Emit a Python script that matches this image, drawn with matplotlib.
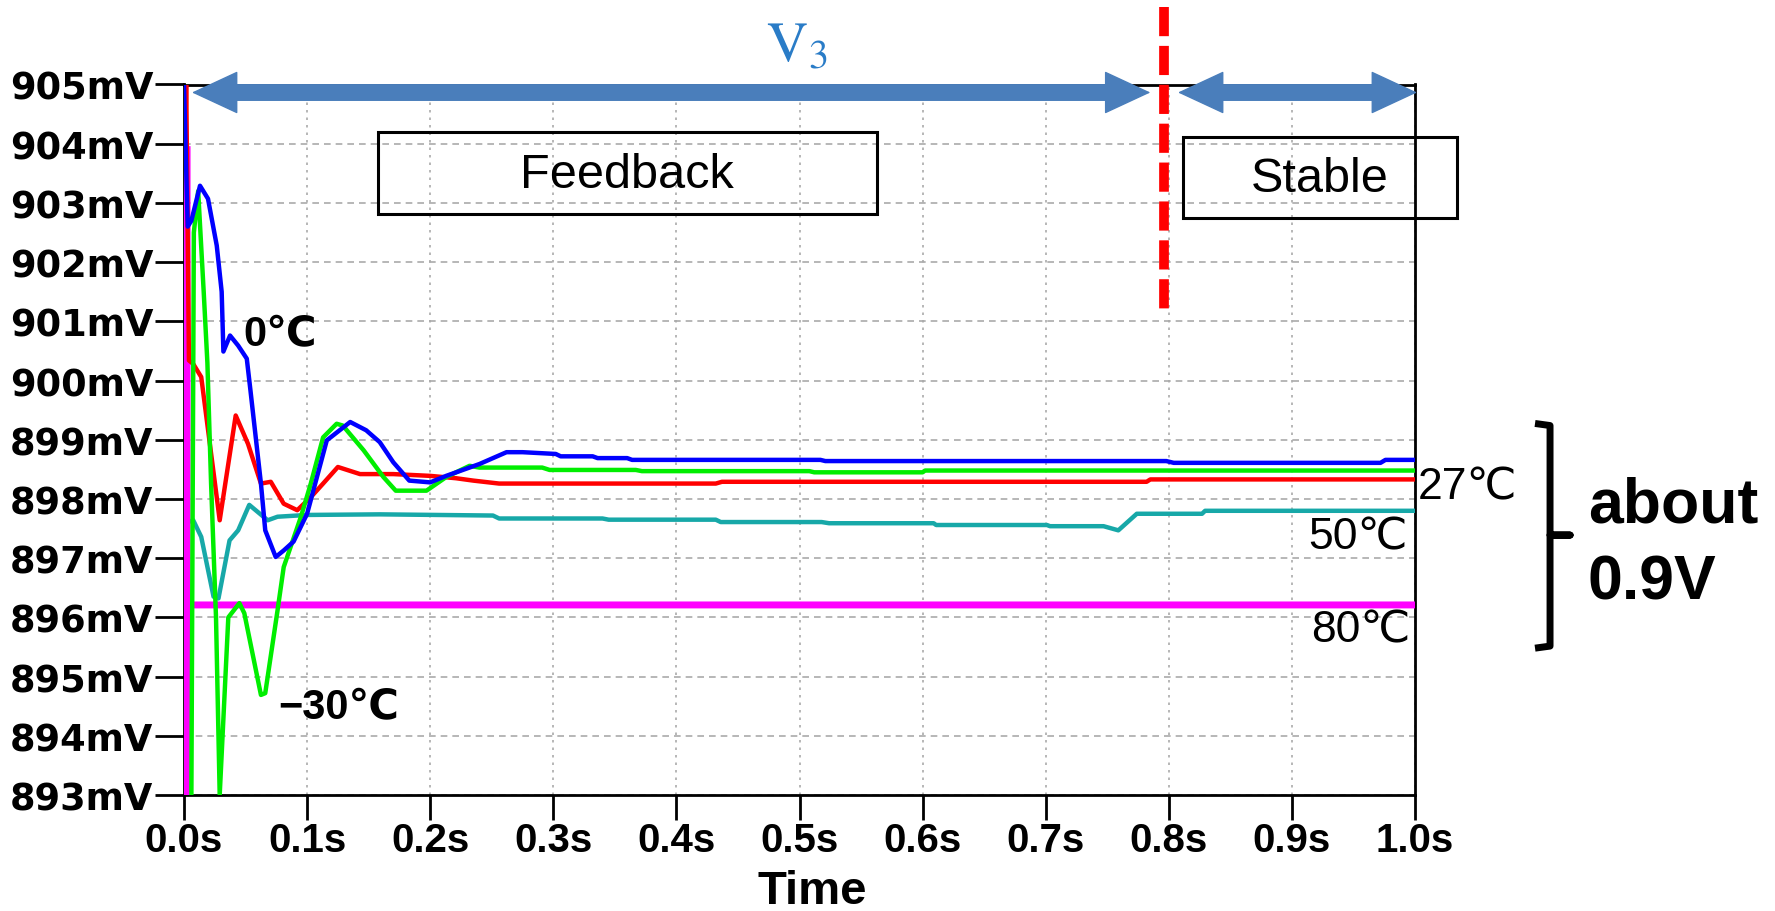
import matplotlib
matplotlib.use("Agg")
import matplotlib.pyplot as plt
from matplotlib.patches import Rectangle

# traces: time in s, voltage in mV
t_0c = [0, 0.003, 0.006, 0.013, 0.0195, 0.0266, 0.0306, 0.032, 0.0374, 0.044, 0.051,
        0.054, 0.0625, 0.066, 0.0745, 0.081, 0.089, 0.1, 0.116, 0.135, 0.148, 0.159,
        0.170, 0.183, 0.2, 0.213, 0.24, 0.262, 0.275, 0.302, 0.306, 0.332, 0.336,
        0.36, 0.364, 0.517, 0.521, 0.798, 0.804, 0.972, 0.976, 1.0]
v_0c = [905, 902.6, 902.7, 903.29, 903.07, 902.28, 901.5, 900.49, 900.76, 900.59, 900.37,
        899.83, 898.26, 897.47, 897.02, 897.13, 897.28, 897.75, 898.99, 899.3, 899.16, 898.96,
        898.62, 898.31, 898.28, 898.39, 898.59, 898.79, 898.79, 898.76, 898.72, 898.72, 898.69,
        898.69, 898.66, 898.66, 898.64, 898.64, 898.61, 898.61, 898.66, 898.66]

t_m30c = [0.006, 0.008, 0.0115, 0.016, 0.019, 0.022, 0.026, 0.029, 0.036, 0.045, 0.049,
          0.0625, 0.066, 0.076, 0.081, 0.095, 0.103, 0.113, 0.124, 0.129, 0.146, 0.162,
          0.172, 0.197, 0.213, 0.232, 0.24, 0.291, 0.297, 0.367, 0.372, 0.508, 0.512,
          0.6, 0.602, 1.0]
v_m30c = [893, 902.5, 903.2, 901.5, 900.3, 898.26, 896.0, 893.0, 896.0, 896.24, 896.07,
          894.69, 894.72, 896.12, 896.85, 897.7, 898.26, 899.04, 899.27, 899.24, 898.82, 898.37,
          898.14, 898.14, 898.37, 898.56, 898.53, 898.53, 898.49, 898.49, 898.47, 898.47, 898.45,
          898.45, 898.48, 898.48]

t_27c = [0.002, 0.002, 0.004, 0.0075, 0.014, 0.029, 0.042, 0.052, 0.0625, 0.0705, 0.081,
         0.092, 0.103, 0.113, 0.125, 0.143, 0.17, 0.2, 0.221, 0.235, 0.256, 0.432, 0.437,
         0.782, 0.785, 1.0]
v_27c = [905, 904.6, 900.34, 900.28, 900.06, 897.64, 899.41, 898.93, 898.26, 898.29, 897.92,
         897.81, 898.03, 898.26, 898.54, 898.42, 898.42, 898.39, 898.35, 898.31, 898.26, 898.26,
         898.29, 898.29, 898.33, 898.33]

t_50c = [0.001, 0.002, 0.0075, 0.014, 0.024, 0.028, 0.037, 0.044, 0.053, 0.068, 0.076, 0.1,
         0.159, 0.251, 0.256, 0.34, 0.345, 0.432, 0.436, 0.518, 0.524, 0.609, 0.611, 0.701,
         0.7035, 0.747, 0.759, 0.774, 0.827, 0.8295, 1.0]
v_50c = [905, 897.6, 897.64, 897.36, 896.35, 896.32, 897.3, 897.47, 897.9, 897.64, 897.7, 897.73,
         897.74, 897.72, 897.67, 897.67, 897.65, 897.65, 897.61, 897.61, 897.59, 897.59, 897.56,
         897.56, 897.54, 897.54, 897.47, 897.75, 897.75, 897.80, 897.80]

t_80c = [0.0025, 0.0025, 0.0045, 1.0]
v_80c = [903.9, 893, 896.21, 896.21]

x_ticks = [0, 0.1, 0.2, 0.3, 0.4, 0.5, 0.6, 0.7, 0.8, 0.9, 1.0]
x_labels = ["0.0s", "0.1s", "0.2s", "0.3s", "0.4s", "0.5s", "0.6s", "0.7s", "0.8s", "0.9s", "1.0s"]
y_ticks = list(range(893, 906))
y_labels = [f"{v}mV" for v in y_ticks]

arrow_blue = "#4a7ebb"
deg_font = ["Liberation Sans", "DejaVu Sans"]

fig = plt.figure(figsize=(17.75, 9.12), dpi=100)
ax = fig.add_axes([184 / 1775, 1 - 796 / 912, 1231 / 1775, 710.5 / 912])
ax.set_xlim(0, 1)
ax.set_ylim(893, 905)

# grid: dotted verticals, dashed horizontals
ax.xaxis.grid(True, color="#aaaaaa", linestyle=(0, (1.5, 3)), linewidth=1.2)
ax.yaxis.grid(True, color="#aaaaaa", linestyle=(0, (4, 3)), linewidth=1.2)
ax.set_axisbelow(True)

ax.plot(t_50c, v_50c, color="#17a8a8", lw=3.2, zorder=3)
ax.plot(t_80c, v_80c, color="#ff00ff", lw=5, zorder=3)
ax.plot(t_27c, v_27c, color="#ff0000", lw=3.2, zorder=3)
ax.plot(t_m30c, v_m30c, color="#00ee00", lw=3.2, zorder=3)
ax.plot(t_0c, v_0c, color="#0000ff", lw=3.2, zorder=3)

for s in ax.spines.values():
    s.set_linewidth(2)
ax.set_xticks(x_ticks)
ax.set_xticklabels(x_labels, fontfamily=["Liberation Sans Narrow", "Liberation Sans"],
                   fontweight="bold", fontsize=29)
ax.set_yticks(y_ticks)
ax.set_yticklabels(y_labels, fontfamily="DejaVu Sans", fontweight="bold", fontsize=26.5)
ax.tick_params(axis="y", direction="out", length=21, width=2, pad=1)
ax.tick_params(axis="x", direction="out", length=18, width=2, pad=1)

ax.set_xlabel("Time", fontfamily="Liberation Sans", fontweight="bold", fontsize=34, va="center")
ax.xaxis.set_label_coords(0.510, -0.135)

# title above the plot
ax.text(0.498, 905.68, r"$\mathrm{V}_3$", fontsize=41, color="#2a7cc7",
        ha="center", va="center", math_fontfamily="stix")

# double-headed arrows
for x0, x1 in [(0.0065, 0.785), (0.8075, 1.0016)]:
    ax.annotate("", xy=(x1, 904.865), xytext=(x0, 904.865),
                arrowprops=dict(arrowstyle="<|-|>,head_length=31,head_width=14.4",
                                mutation_scale=1, shrinkA=0, shrinkB=0,
                                color=arrow_blue, lw=1),
                annotation_clip=False, zorder=5)
    ax.plot([x0 + 0.02, x1 - 0.02], [904.865, 904.865], color=arrow_blue, lw=12.2,
            solid_capstyle="butt", clip_on=False, zorder=5)

# red dashed separator
ax.plot([0.796, 0.796], [906.31, 901.21], color="#ff0000", lw=7, dashes=(3, 1),
        clip_on=False, zorder=6)

# phase boxes
ax.add_patch(Rectangle((0.1576, 902.82), 0.563 - 0.1576, 904.20 - 902.82, fill=False,
                       edgecolor="black", lw=2.2, clip_on=False, zorder=4))
ax.text(0.360, 903.27, "Feedback", fontfamily="Liberation Sans", fontsize=35,
        ha="center", va="baseline")
ax.add_patch(Rectangle((0.8115, 902.75), 1.034 - 0.8115, 904.115 - 902.75, fill=False,
                       edgecolor="black", lw=2.2, clip_on=False, zorder=4))
ax.text(0.9228, 903.204, "Stable", fontfamily="Liberation Sans", fontsize=35,
        ha="center", va="baseline")

# temperature labels
ax.text(0.048, 900.595, "0℃", fontfamily=deg_font, fontweight="bold", fontsize=30, va="baseline")
ax.text(0.0764, 894.30, "−30℃", fontfamily=deg_font, fontweight="bold", fontsize=30, va="baseline")
ax.text(1.0024, 898.01, "27℃", fontfamily=deg_font, fontsize=32, va="baseline")
ax.text(0.9943, 897.17, "50℃", fontfamily=deg_font, fontsize=32, va="baseline", ha="right")
ax.text(0.996, 895.60, "80℃", fontfamily=deg_font, fontsize=32, va="baseline", ha="right")

# bracket and note
ax.plot([1.0975, 1.1097, 1.1097, 1.126, 1.1097, 1.1097, 1.0975],
        [899.275, 899.24, 897.39, 897.39, 897.39, 895.515, 895.48],
        color="black", lw=5, solid_joinstyle="round", solid_capstyle="butt", clip_on=False)
ax.text(1.1405, 897.62, "about", fontfamily="Liberation Sans", fontweight="bold",
        fontsize=45, va="baseline")
ax.text(1.1405, 896.32, "0.9V", fontfamily="Liberation Sans", fontweight="bold",
        fontsize=45, va="baseline")

fig.savefig("out.png", dpi=100)
